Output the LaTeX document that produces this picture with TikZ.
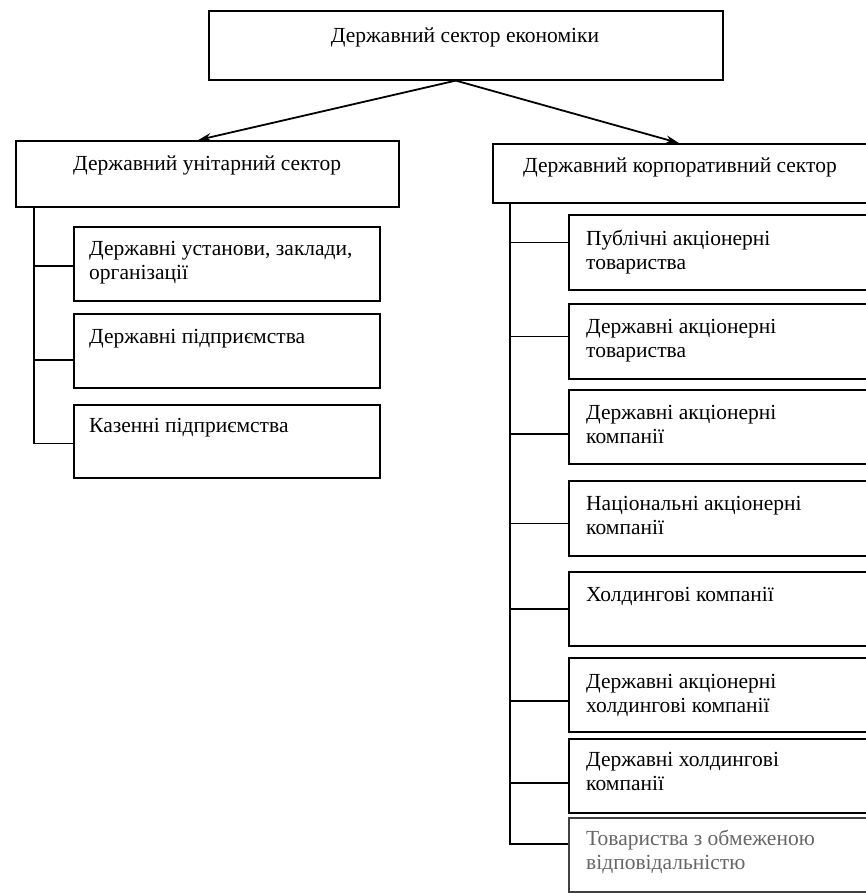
\documentclass[tikz,border=0pt]{standalone}
\usepackage{fontspec}
\setmainfont{Liberation Serif}
\usetikzlibrary{arrows.meta, positioning, calc}

\begin{document}
\begin{tikzpicture}[x=1pt, y=-1pt,
        box/.style={draw, line width=1.6pt, anchor=north west, inner sep=0pt},
        label/.style={font=\fontsize{21.5}{24}\selectfont, align=left, inner sep=0pt, anchor=base west},
        arrow/.style={-{Stealth[length=13pt, width=8pt]}, line width=1.8pt},
        link/.style={line width=1.6pt}
    ]
        \useasboundingbox (0,0) rectangle (866,894);
        \clip (0,0) rectangle (866,894);

        % Top
        \node[box, minimum width=514pt, minimum height=69pt] (state) at (208,10) {};
        \node[label, anchor=base] (statetxt) at (465,42) {Державний сектор економіки};

        % Unitary sector
        \node[box, minimum width=383pt, minimum height=66pt] (uni) at (15,140) {};
        \node[label] (unitxt) at (73,170) {Державний унітарний сектор};

        % Corporate sector
        \node[box, minimum width=420pt, minimum height=59pt] (corp) at (492,143) {};
        \node[label] (corptxt) at (523,172) {Державний корпоративний сектор};

        % Arrows
        \draw[arrow] ([xshift=-10pt]state.south) -- ([xshift=-9pt]uni.north);
        \draw[arrow] ([xshift=-10pt]state.south) -- ([xshift=-24pt]corp.north);

        % Unitary branch (base = last line)
        \node[box, minimum width=306pt, minimum height=74pt] (u1) at (73,226) {};
        \node[label] (u1txt) at (89,279) {Державні установи, заклади,\\організації};
        \node[box, minimum width=306pt, minimum height=74pt] (u2) at (73,313) {};
        \node[label] (u2txt) at (89,343) {Державні підприємства};
        \node[box, minimum width=306pt, minimum height=73pt] (u3) at (73,404) {};
        \node[label] (u3txt) at (89,432) {Казенні підприємства};

        \coordinate (ltrunk) at (34,206);
        \draw[link] (ltrunk) |- ([yshift=-2pt]u3.west);
        \draw[link] ([yshift=-2pt]u1.west) -- ([yshift=-2pt]u1.west -| ltrunk);
        \draw[link] ([yshift=-9pt]u2.west) -- ([yshift=-9pt]u2.west -| ltrunk);

        % Corporate branch
        \node[box, minimum width=340pt, minimum height=75pt] (r1) at (568,214) {};
        \node[label] (r1txt) at (586,269) {Публічні акціонерні\\товариства};
        \node[box, minimum width=340pt, minimum height=75pt] (r2) at (568,303) {};
        \node[label] (r2txt) at (586,357) {Державні акціонерні\\товариства};
        \node[box, minimum width=340pt, minimum height=74pt] (r3) at (568,389) {};
        \node[label] (r3txt) at (586,443) {Державні акціонерні\\компанії};
        \node[box, minimum width=340pt, minimum height=75pt] (r4) at (568,480) {};
        \node[label] (r4txt) at (586,534) {Національні акціонерні\\компанії};
        \node[box, minimum width=340pt, minimum height=74pt] (r5) at (568,571) {};
        \node[label] (r5txt) at (586,601) {Холдингові компанії};
        \node[box, minimum width=340pt, minimum height=74pt] (r6) at (568,657) {};
        \node[label] (r6txt) at (586,712) {Державні акціонерні\\холдингові компанії};
        \node[box, minimum width=340pt, minimum height=74pt] (r7) at (568,738) {};
        \node[label] (r7txt) at (586,790) {Державні холдингові\\компанії};
        \node[box, draw=black!75, minimum width=340pt, minimum height=74pt] (r8) at (568,817) {};
        \node[label, text=black!60] (r8txt) at (586,869) {Товариства з обмеженою\\відповідальністю};

        \coordinate (rtrunk) at (510,202);
        \draw[link] (rtrunk) |- ([yshift=11pt]r8.west);
        \draw[link] ([yshift=10pt]r1.west) -- ([yshift=10pt]r1.west -| rtrunk);
        \draw[link] ([yshift=5pt]r2.west) -- ([yshift=5pt]r2.west -| rtrunk);
        \draw[link] ([yshift=-7pt]r3.west) -- ([yshift=-7pt]r3.west -| rtrunk);
        \draw[link] ([yshift=-5pt]r4.west) -- ([yshift=-5pt]r4.west -| rtrunk);
        \draw[link] (r5.west) -- (r5.west -| rtrunk);
        \draw[link] ([yshift=-6pt]r6.west) -- ([yshift=-6pt]r6.west -| rtrunk);
        \draw[link] ([yshift=-7pt]r7.west) -- ([yshift=-7pt]r7.west -| rtrunk);

    \end{tikzpicture}
\end{document}
